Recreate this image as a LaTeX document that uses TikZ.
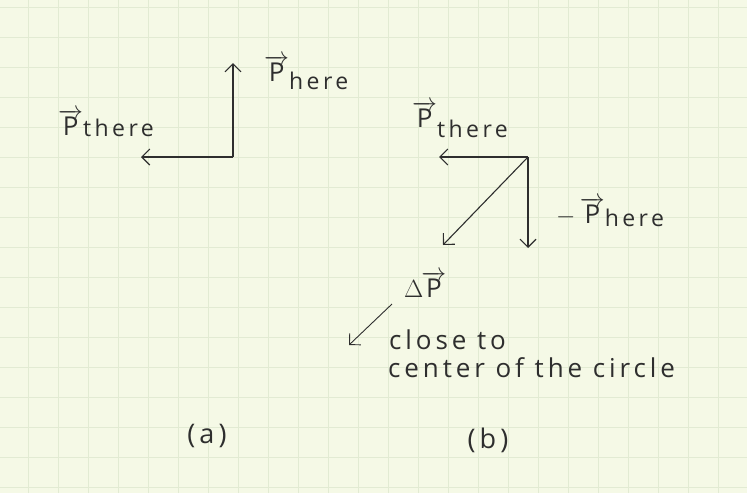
\documentclass[tikz,border=0pt]{standalone}
\usepackage{fontspec}
\setmainfont{Open Sans}[LetterSpace=15]
\usetikzlibrary{arrows.meta}
\definecolor{paper}{HTML}{F5F9E6}
\definecolor{gridc}{HTML}{E2EBD3}
\definecolor{ink}{HTML}{2E2E2E}
\newcommand{\vP}{$\overrightarrow{\mbox{P}}$}
\newcommand{\subtxt}[1]{{\fontsize{23}{25}\selectfont #1}}
\tikzset{
  vecarrow/.style={draw=ink, line width=1.1pt, -{Straight Barb[length=8pt,width=16pt,line width=1.1pt]}},
  pointer/.style={draw=ink, line width=0.9pt, -{Straight Barb[length=8pt,width=16pt,line width=0.9pt]}},
  lbl/.style={text=ink, font=\fontsize{26}{30}\selectfont, inner sep=0pt},
}
\begin{document}
\begin{tikzpicture}[x=1pt,y=-1pt]
\useasboundingbox (0,0) rectangle (747,493);
\fill[paper] (0,0) rectangle (747,493);
\foreach \gx in {28,58,...,747} \draw[gridc, line width=0.6pt] (\gx,0) -- (\gx,493);
\foreach \gy in {7,37,...,493} \draw[gridc, line width=0.6pt] (0,\gy) -- (747,\gy);

% (a)
\coordinate (oa) at (233,157);
\coordinate (ua) at (233,63);
\coordinate (la) at (141,157);
\draw[vecarrow] (oa) -- (ua);
\draw[vecarrow] (oa) -- (la);
\node[lbl, anchor=south west] (phereA) at (264,90) {\vP\raisebox{-8pt}{\subtxt{here}}};
\node[lbl, anchor=south west] (pthereA) at (58,137) {\vP\raisebox{-1pt}{\subtxt{there}}};
\node[lbl, font=\fontsize{27}{30}\selectfont] (capA) at (207,436) {(a)};

% (b)
\coordinate (ob) at (528,157);
\coordinate (lb) at (439,157);
\coordinate (db) at (528,248);
\coordinate (gb) at (443,245);
\draw[vecarrow] (ob) -- (lb);
\draw[vecarrow] (ob) -- (db);
\draw[vecarrow] (ob) -- (gb);
\node[lbl, anchor=south west] (pthereB) at (412,138) {\vP\raisebox{-10pt}{\subtxt{there}}};
\node[lbl, anchor=south west] (phereB) at (556,227) {$-$\,\vP\raisebox{-3pt}{\subtxt{here}}};
\node[lbl, anchor=south west] (dP) at (404,298) {$\Delta$\hspace{-2pt}$\overrightarrow{\mbox{P}}$};
\coordinate (ps) at (392,304);
\coordinate (pe) at (349,345);
\draw[pointer] (ps) -- (pe);
\node[lbl, anchor=south west] (close) at (389,350) {close to};
\node[lbl, anchor=south west] (center) at (388,378) {center of the circle};
\node[lbl, font=\fontsize{27}{30}\selectfont] (capB) at (488,440) {(b)};
\end{tikzpicture}
\end{document}
